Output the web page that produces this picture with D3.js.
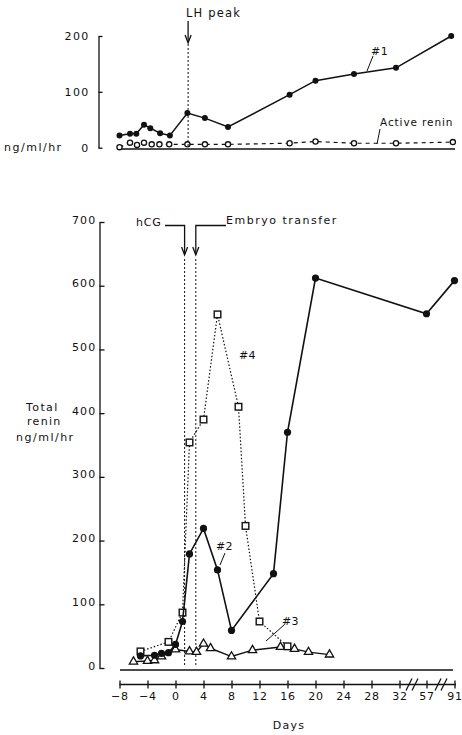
<!DOCTYPE html>
<html>
<head>
<meta charset="utf-8">
<script src="https://cdn.jsdelivr.net/npm/d3@7"></script>
<style>
  body { margin: 0; background: #fff; }
  svg { display: block; }
  text { font-family: "DejaVu Sans", sans-serif; fill: #111; }
</style>
</head>
<body>
<script>
// top panel: patient #1, natural cycle
const topDays = [-8, -6.5, -5.6, -4.5, -3.6, -2.2, -0.8, 1.7, 4.2, 7.5, 16.3, 20, 25.5, 31.5, 87];
const totalRenin1 = [22, 25, 25, 41, 35, 26, 22, 62, 53, 37, 95, 120, 132, 143, 200];
const activeDays = [-8, -6.5, -5.5, -4.5, -3.4, -2.3, -0.9, 1.7, 4.2, 7.5, 16.3, 20, 25.5, 31.5, 89];
const activeRenin = [1, 9, 5, 9, 6, 6, 6, 6, 6, 6, 8, 11, 8, 8, 10];

// bottom panel: patients #2, #3, #4
const days2 = [-5, -3, -2, -1, 0, 1, 2, 4, 6, 8, 14, 16, 20, 57, 91];
const renin2 = [19, 20, 23, 24, 37, 73, 179, 219, 154, 59, 148, 370, 612, 556, 608];
const days3 = [-6, -4, -3, -2, 0, 2, 3, 4, 5, 8, 11, 15, 17, 19, 22];
const renin3 = [10, 11, 12, 18, 29, 26, 25, 38, 31, 18, 28, 33, 30, 25, 21];
const days4 = [-5, -1, 1, 2, 4, 6, 9, 10, 12, 16];
const renin4 = [26, 41, 87, 354, 390, 555, 410, 223, 73, 34];

const dayTicks = [-8, -4, 0, 4, 8, 12, 16, 20, 24, 28, 32, 57, 91];
const topTicks = [0, 100, 200];
const bottomTicks = [0, 100, 200, 300, 400, 500, 600, 700];
const lhDay = 1.8, hcgDay = 1.3, etDay = 2.9;

const width = 462, height = 735;
const svg = d3.select("body").append("svg")
  .attr("width", width).attr("height", height);

// broken day axis: linear up to 32, then jumps to 57 and 91
const x = d3.scaleLinear().domain([-8, 32, 57, 91]).range([119.5, 399.5, 426.5, 454.5]);
const yTop = d3.scaleLinear().domain([0, 200]).range([147.7, 36]);
const yBot = d3.scaleLinear().domain([0, 700]).range([668, 222]);

const zip = (a, b) => a.map((d, i) => [d, b[i]]);
const font = (sel, size = 11, ls = 1) =>
  sel.attr("font-size", size).attr("letter-spacing", ls);

// ---- top panel ----
const topG = svg.append("g");

topG.append("g")
  .attr("transform", "translate(98.5,0)")
  .call(d3.axisLeft(yTop).tickValues(topTicks).tickSize(-4).tickSizeOuter(0).tickPadding(9))
  .call(g => g.selectAll("path, line").attr("stroke", "#111").attr("stroke-width", 1.3))
  .call(g => g.selectAll("text").call(font, 11, 1.3).attr("font-family", null));

topG.append("line")
  .attr("x1", 118).attr("x2", 455).attr("y1", 149).attr("y2", 149)
  .attr("stroke", "#111").attr("stroke-width", 1.5);

topG.append("text").attr("x", 4).attr("y", 151).text("ng/ml/hr").call(font, 11, 1.5);

const lineTop = d3.line().x(d => x(d[0])).y(d => yTop(d[1]));
const active = zip(activeDays, activeRenin);
topG.append("path").attr("d", lineTop(active))
  .attr("fill", "none").attr("stroke", "#111").attr("stroke-width", 1.2)
  .attr("stroke-dasharray", "4,4");
topG.selectAll("circle.active").data(active).join("circle")
  .attr("cx", d => x(d[0])).attr("cy", d => yTop(d[1])).attr("r", 2.6)
  .attr("fill", "#fff").attr("stroke", "#111").attr("stroke-width", 1.3);

const total1 = zip(topDays, totalRenin1);
topG.append("path").attr("d", lineTop(total1))
  .attr("fill", "none").attr("stroke", "#111").attr("stroke-width", 1.5);
topG.selectAll("circle.total").data(total1).join("circle")
  .attr("cx", d => x(d[0])).attr("cy", d => yTop(d[1])).attr("r", 3)
  .attr("fill", "#111");

// LH peak marker
topG.append("line").attr("x1", x(lhDay)).attr("x2", x(lhDay)).attr("y1", 44).attr("y2", 147)
  .attr("stroke", "#111").attr("stroke-dasharray", "2,2");
topG.append("line").attr("x1", x(lhDay)).attr("x2", x(lhDay)).attr("y1", 21).attr("y2", 41)
  .attr("stroke", "#111").attr("stroke-width", 1.3);
topG.append("path")
  .attr("d", `M${x(lhDay) - 3},35L${x(lhDay)},43L${x(lhDay) + 3},35`)
  .attr("fill", "none").attr("stroke", "#111").attr("stroke-width", 1.3);
topG.append("text").attr("x", 186).attr("y", 17).text("LH peak").call(font, 11.5, 1.2);

topG.append("text").attr("x", 371).attr("y", 55).text("#1").call(font, 11, 0.5);
topG.append("line").attr("x1", 367).attr("y1", 71).attr("x2", 373).attr("y2", 56)
  .attr("stroke", "#111");
topG.append("text").attr("x", 380).attr("y", 126).text("Active renin").call(font, 10.5, 0.9);
topG.append("line").attr("x1", 377).attr("y1", 144).attr("x2", 380).attr("y2", 129)
  .attr("stroke", "#111");

// ---- bottom panel ----
const bot = svg.append("g");

bot.append("g")
  .attr("transform", "translate(99.5,0)")
  .call(d3.axisLeft(yBot).tickValues(bottomTicks).tickSize(-5).tickSizeOuter(0).tickPadding(3))
  .call(g => g.selectAll("path, line").attr("stroke", "#111").attr("stroke-width", 1.3))
  .call(g => g.selectAll("text").call(font, 11, 1.2).attr("font-family", null).attr("dy", "0.1em"));

bot.append("line")
  .attr("x1", 120).attr("x2", 453).attr("y1", 670).attr("y2", 670)
  .attr("stroke", "#111").attr("stroke-width", 1.5);

bot.append("text").attr("x", 26).attr("y", 411).text("Total").call(font, 11, 1.4);
bot.append("text").attr("x", 27).attr("y", 425).text("renin").call(font, 11, 1.3);
bot.append("text").attr("x", 16).attr("y", 441).text("ng/ml/hr").call(font, 11, 1.5);

// hCG and embryo transfer markers
[hcgDay, etDay].forEach(d => {
  bot.append("line").attr("x1", x(d)).attr("x2", x(d)).attr("y1", 259).attr("y2", 666)
    .attr("stroke", "#111").attr("stroke-dasharray", "2,2");
  bot.append("path")
    .attr("d", `M${x(d) - 3},247L${x(d)},255L${x(d) + 3},247`)
    .attr("fill", "none").attr("stroke", "#111").attr("stroke-width", 1.3);
});
bot.append("path").attr("d", `M165,225.5H${x(hcgDay)}V254`)
  .attr("fill", "none").attr("stroke", "#111").attr("stroke-width", 1.3);
bot.append("path").attr("d", `M226,225.5H${x(etDay)}V254`)
  .attr("fill", "none").attr("stroke", "#111").attr("stroke-width", 1.3);
bot.append("text").attr("x", 136).attr("y", 226).text("hCG").call(font, 11, 0.8);
bot.append("text").attr("x", 226).attr("y", 224).text("Embryo transfer").call(font, 11, 1.5);

const lineBot = d3.line().x(d => x(d[0])).y(d => yBot(d[1]));

// #3 open triangles, solid
const s3 = zip(days3, renin3);
bot.append("path").attr("d", lineBot(s3))
  .attr("fill", "none").attr("stroke", "#111").attr("stroke-width", 1.4);
bot.selectAll("path.tri").data(s3).join("path")
  .attr("transform", d => `translate(${x(d[0])},${yBot(d[1])})`)
  .attr("d", d3.symbol(d3.symbolTriangle, 30))
  .attr("fill", "#fff").attr("stroke", "#111").attr("stroke-width", 1.3);

// #4 open squares, dotted
const s4 = zip(days4, renin4);
bot.append("path").attr("d", lineBot(s4))
  .attr("fill", "none").attr("stroke", "#111").attr("stroke-width", 1.2)
  .attr("stroke-dasharray", "1.5,2");
bot.selectAll("rect.sq").data(s4).join("rect")
  .attr("x", d => x(d[0]) - 3.3).attr("y", d => yBot(d[1]) - 3.3)
  .attr("width", 6.6).attr("height", 6.6)
  .attr("fill", "#fff").attr("stroke", "#111").attr("stroke-width", 1.4);

// #2 filled circles, solid
const s2 = zip(days2, renin2);
bot.append("path").attr("d", lineBot(s2))
  .attr("fill", "none").attr("stroke", "#111").attr("stroke-width", 1.6);
bot.selectAll("circle.c2").data(s2).join("circle")
  .attr("cx", d => x(d[0])).attr("cy", d => yBot(d[1])).attr("r", 3.6)
  .attr("fill", "#111");

// series labels
bot.append("text").attr("x", 216).attr("y", 550).text("#2").call(font, 11, 0.3);
bot.append("line").attr("x1", 225).attr("y1", 553).attr("x2", 220).attr("y2", 565)
  .attr("stroke", "#111");
bot.append("text").attr("x", 282).attr("y", 625).text("#3").call(font, 11, 0.3);
bot.append("line").attr("x1", 284).attr("y1", 625).attr("x2", 266).attr("y2", 641)
  .attr("stroke", "#111");
bot.append("text").attr("x", 239).attr("y", 359).text("#4").call(font, 11, 0.3);

// day axis
const axisY = 684.5;
bot.append("g")
  .attr("transform", `translate(0,${axisY})`)
  .call(d3.axisBottom(x).tickValues(dayTicks).tickSize(3).tickSizeOuter(0).tickPadding(5))
  .call(g => g.select(".domain").remove())
  .call(g => g.selectAll(".tick line").attr("y1", -4).attr("y2", 4)
    .attr("stroke", "#111").attr("stroke-width", 1.3))
  .call(g => g.selectAll("text").call(font, 11, 0.8).attr("font-family", null));
bot.append("line").attr("x1", 119.5).attr("x2", 456).attr("y1", axisY).attr("y2", axisY)
  .attr("stroke", "#111").attr("stroke-width", 1.3);

// axis breaks
[412, 441].forEach(bx => {
  [-3, 3].forEach(o => {
    bot.append("line")
      .attr("x1", bx + o - 3).attr("y1", axisY + 6)
      .attr("x2", bx + o + 3).attr("y2", axisY - 6)
      .attr("stroke", "#111").attr("stroke-width", 1.3);
  });
});

bot.append("text").attr("x", 289).attr("y", 729).attr("text-anchor", "middle")
  .text("Days").call(font, 11, 1.2);
</script>
</body>
</html>
